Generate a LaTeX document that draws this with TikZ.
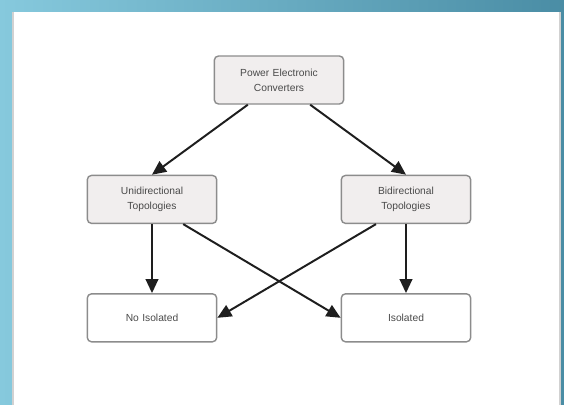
\documentclass[tikz,border=0pt]{standalone}
\usepackage{fontspec}
\setmainfont{Liberation Sans}
\usepackage{xcolor}
\definecolor{cGrey}   {HTML}{F1EEEE}
\definecolor{cLine}   {HTML}{8C8C8C}
\definecolor{cText}   {HTML}{4A4A4A}
\definecolor{cArrow}  {HTML}{1E1E1E}
\definecolor{cSkyL}   {HTML}{86C9DD}
\definecolor{cSkyR}   {HTML}{4A8DA5}
\usepackage{tikz}
\usetikzlibrary{arrows.meta, positioning, calc}
\tikzset{
  blk/.style  = {rectangle, draw=cLine, line width=1pt, rounded corners=3pt,
                 minimum height=1.2cm, minimum width=3.15cm, text width=3.0cm,
                 align=center, font=\fontsize{7.3}{10.5}\selectfont,
                 text=cText, fill=cGrey},
  leaf/.style = {blk, fill=white},
  arr/.style  = {-{Triangle[length=10pt, width=9pt]}, line width=1.4pt,
                 draw=cArrow},
}

\begin{document}
\begin{tikzpicture}[node distance=1.75cm and 0.5cm]

  %% --- backdrop and page ---
  \shade[left color=cSkyL, right color=cSkyR]
        (-6.975,2.0) rectangle (7.125,-8.125);
  \fill[black!18] (-6.68,1.71) rectangle (7.05,-8.125);
  \fill[white] (-6.63,1.71) rectangle (7.0,-8.125);
  \useasboundingbox (-6.975,2.0) rectangle (7.125,-8.125);

  %% --- top ---
  \node[blk] (pec) at (0,0) {Power Electronic\\Converters};

  %% --- topologies ---
  \node[blk, below=1.75cm of pec, xshift=-3.175cm] (uni)
        {Unidirectional\\Topologies};
  \node[blk, below=1.75cm of pec, xshift=3.175cm]  (bi)
        {Bidirectional\\Topologies};

  %% --- isolation ---
  \node[leaf, below=1.725cm of uni] (noiso) {No Isolated};
  \node[leaf, below=1.725cm of bi]  (iso)   {Isolated};

  %% --- Arrows ---
  \draw[arr] ([xshift=-0.78cm]pec.south) -- (uni.north);
  \draw[arr] ([xshift=0.78cm]pec.south)  -- (bi.north);

  \draw[arr] (uni.south) -- (noiso.north);
  \draw[arr] (bi.south)  -- (iso.north);

  \draw[arr] ([xshift=0.78cm]uni.south) -- (iso.west);
  \draw[arr] ([xshift=-0.75cm]bi.south) -- (noiso.east);

\end{tikzpicture}
\end{document}
